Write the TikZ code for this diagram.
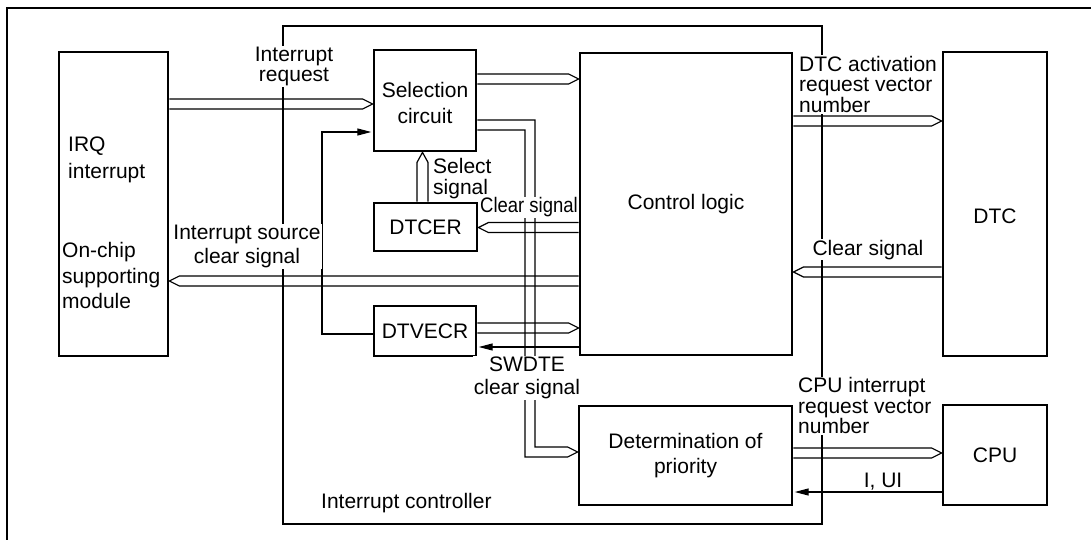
\documentclass[tikz,border=0pt]{standalone}
\usepackage{fontspec}
\setmainfont{Liberation Sans}
\newfontfamily\condfont[FakeStretch=0.88]{Liberation Sans}
\usetikzlibrary{calc,arrows.meta}
\newcommand\fsz[1]{\fontsize{21}{#1}\selectfont}
% right-pointing bus from #1 (east side) to #2 (west side) at centre y #3
\newcommand\busR[3]{\draw[bus] (#1.east|-0,#3-5) -- ($(#2.west|-0,#3-5)+(-10,0)$) -- (#2.west|-0,#3) -- ($(#2.west|-0,#3+5)+(-10,0)$) -- (#1.east|-0,#3+5);}
% left-pointing bus from #1 (west side) to #2 (east side) at centre y #3
\newcommand\busL[3]{\draw[bus] (#1.west|-0,#3-5) -- ($(#2.east|-0,#3-5)+(10,0)$) -- (#2.east|-0,#3) -- ($(#2.east|-0,#3+5)+(10,0)$) -- (#1.west|-0,#3+5);}
\begin{document}
\begin{tikzpicture}[x=1pt,y=-1pt,
  box/.style={draw, line width=2.8pt, inner sep=0pt, font=\fsz{25}, align=center},
  bus/.style={line width=1.2pt, line join=miter},
  sig/.style={line width=1.2pt, -{Triangle[length=14pt,width=7pt]}, shorten >=1.3pt},
  lbl/.style={inner sep=1pt},
  wl/.style={lbl, fill=white},
]
\useasboundingbox (0,0) rectangle (1091,540);
% outer frame (cropped)
\draw[line width=2.8pt] (1095,8) -- (7,8) -- (7,545);
% interrupt controller frame
\node[draw, line width=1.2pt, inner sep=0pt, minimum width=539pt, minimum height=498pt] (ic) at (552.5,275) {};

% boxes
\node[box, minimum width=109pt, minimum height=304pt] (irq) at (113.5,204) {};
\node[box, minimum width=102pt, minimum height=101pt] (sel) at (425,100.5) {};
\node[box, minimum width=103pt, minimum height=48pt] (dtcer) at (425.5,227) {DTCER};
\node[box, minimum width=102pt, minimum height=50pt] (dtvecr) at (425,331) {DTVECR};
\node[box, minimum width=212pt, minimum height=302pt] (cl) at (686,204) {Control logic};
\node[box, minimum width=213pt, minimum height=99pt] (det) at (685.5,455.5) {Determination of\\priority};
\node[box, minimum width=104pt, minimum height=304pt] (dtc) at (995,204) {};
\node[box, minimum width=104pt, minimum height=100pt] (cpu) at (995,455) {CPU};

% buses
\busR{irq}{sel}{104}
\busR{sel}{cl}{79}
\busL{cl}{dtcer}{227.5}
\busL{cl}{irq}{281}
\busR{dtvecr}{cl}{328}
\busR{cl}{dtc}{121}
\busL{dtc}{cl}{272}
\busR{det}{cpu}{453}
% selection circuit -> determination of priority
\draw[bus] (sel.east|-0,120) -- (535,120) -- (535,447) -- ($(det.west|-0,447)+(-10,0)$) -- (det.west|-0,452) -- ($(det.west|-0,457)+(-10,0)$) -- (525,457) -- (525,130) -- (sel.east|-0,130);
% select signal (DTCER -> selection circuit)
\draw[bus] (dtcer.north-|417,0) -- ($(sel.south-|417,0)+(0,10)$) -- (sel.south-|422.5,0) -- ($(sel.south-|428,0)+(0,10)$) -- (dtcer.north-|428,0);

% thin signals
\coordinate (k1) at (322,334);
\coordinate (k2) at (322,132);
\draw[sig] (dtvecr.west|-k1) -- (k1) -- (k2) -- (sel.west|-k2);
\draw[sig] (cl.west|-0,347) -- (dtvecr.east|-0,347);
\draw[sig] (cpu.west|-0,492) -- (det.east|-0,492);

% labels
\node[lbl, align=center, font=\fsz{26}] (lsel) at ($(sel.center)+(0,2)$) {Selection\\circuit};
\node[wl, anchor=north, align=center, font=\fsz{19.5}] (lintreq) at (294,46) {Interrupt\\request};
\node[lbl, anchor=north west, align=left, font=\fsz{27}] (lirq) at (67,136) {IRQ\\interrupt};
\node[lbl, anchor=north west, align=left, font=\fsz{25.7}] (lonchip) at (61,241) {On-chip\\supporting\\module};
\node[wl, anchor=north, align=center, font=\fsz{24}] (lisrc) at (247,224) {Interrupt source\\clear signal};
\node[wl, anchor=north west, align=left, font=\fsz{21}] (lselsig) at (432,157) {Select\\signal};
\node[wl, anchor=north west, inner sep=0.5pt, font={\condfont\fsz{21}}] (lclr1) at (479.5,197) {Clear signal};
\node[wl, anchor=north, align=center, font=\fsz{23}] (lswdte) at (527,356) {SWDTE\\clear signal};
\node[wl, anchor=north west, align=left, font=\fsz{20.5}] (ldtcact) at (798,55) {DTC activation\\request vector\\number};
\node[lbl, font=\fsz{24}] (ldtc) at ($(dtc.center)+(0,12)$) {DTC};
\node[wl, anchor=base, font=\fsz{24}] (lclr2) at (868,255) {Clear signal};
\node[wl, anchor=north west, align=left, font=\fsz{20.5}] (lcpuint) at (797,376.5) {CPU interrupt\\request vector\\number};
\node[lbl, anchor=base, font=\fsz{24}] (liui) at (883,487) {I, UI};
\node[lbl, anchor=base west, font=\fsz{24}] (lic) at (320,508) {Interrupt controller};
\end{tikzpicture}
\end{document}
